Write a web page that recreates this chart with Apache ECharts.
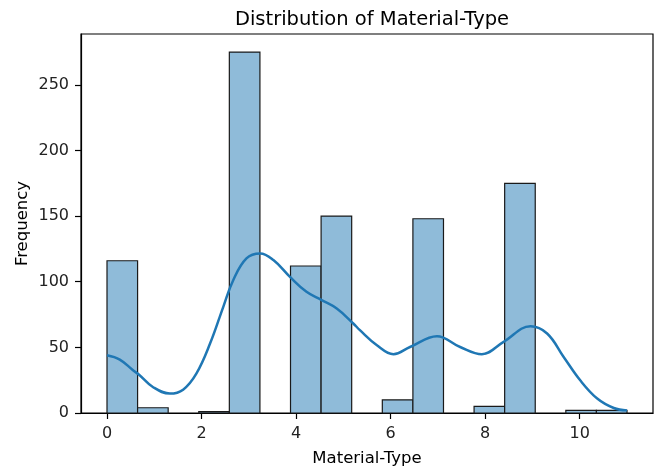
<!DOCTYPE html>
<html>
<head>
<meta charset="utf-8">
<script src="https://cdn.jsdelivr.net/npm/echarts@6/dist/echarts.min.js"></script>
<style>
  html, body { margin: 0; padding: 0; background: #fff; }
  #chart { width: 662px; height: 474px; }
</style>
</head>
<body>
<div id="chart"></div>
<script>
// histogram bins (17 bins over 0..11)
const binEdges = [0, 0.647, 1.294, 1.941, 2.588, 3.235, 3.882, 4.529, 5.176,
  5.824, 6.471, 7.118, 7.765, 8.412, 9.059, 9.706, 10.353, 11]
const counts = [116, 4, 0, 1, 275, 0, 112, 150, 0, 10, 148, 0, 5, 175, 0, 2, 2]

// kde curve
const kdeX = [0, 0.27, 0.55, 0.69, 0.97, 1.33, 1.61, 1.89, 2.18, 2.46, 2.67, 2.95,
  3.24, 3.52, 3.87, 4.22, 4.54, 4.86, 5.21, 5.35, 5.71, 6.06, 6.41, 6.98,
  7.47, 7.93, 8.39, 8.96, 9.31, 9.66, 10.01, 10.37, 10.72, 11]
const kdeY = [44, 40.7, 32.6, 28.8, 19.8, 14.8, 17.8, 30, 52.9, 80.9, 101.2, 117.8,
  121.6, 116.5, 103.7, 92.3, 86, 79.6, 68.2, 63.1, 51.6, 44.8, 50.3, 58.5,
  50.3, 44.8, 54.2, 66.1, 60.6, 42.7, 24.9, 11, 3.8, 2]

const xTicks = [0, 2, 4, 6, 8, 10]
const yTicks = [0, 50, 100, 150, 200, 250]

const font = 'DejaVu Sans'
const chart = echarts.init(document.getElementById('chart'))

const barData = counts.map((c, i) => [binEdges[i], binEdges[i + 1], c])
const lineData = kdeX.map((x, i) => [x, kdeY[i]])

const option = {
  animation: false,
  title: {
    text: 'Distribution of Material-Type',
    left: 367,
    top: 5,
    textAlign: 'center',
    textStyle: { fontFamily: font, fontSize: 19.5, fontWeight: 'normal', color: '#000' }
  },
  grid: {
    left: 81, right: 9, top: 34, bottom: 61,
    show: true,
    borderColor: '#000',
    borderWidth: 1.2,
    containLabel: false
  },
  xAxis: {
    type: 'value',
    min: -0.55,
    max: 11.55,
    name: 'Material-Type',
    nameLocation: 'middle',
    nameGap: 37,
    nameMoveOverlap: false,
    nameTextStyle: { fontFamily: font, fontSize: 16.5, color: '#000' },
    axisLine: { onZero: false, lineStyle: { color: '#000', width: 1.2 } },
    axisTick: { customValues: xTicks, length: 6, lineStyle: { color: '#000', width: 1.2 } },
    axisLabel: { customValues: xTicks, margin: 13, fontFamily: font, fontSize: 16, color: '#222' },
    splitLine: { show: false }
  },
  yAxis: {
    type: 'value',
    min: 0,
    max: 288.75,
    name: 'Frequency',
    nameLocation: 'middle',
    nameGap: 50,
    nameMoveOverlap: false,
    nameTextStyle: { fontFamily: font, fontSize: 16.5, color: '#000' },
    axisLine: { show: true, onZero: false, lineStyle: { color: '#000', width: 1.2 } },
    axisTick: { show: true, customValues: yTicks, length: 6, lineStyle: { color: '#000', width: 1.2 } },
    axisLabel: { customValues: yTicks, margin: 12, fontFamily: font, fontSize: 16, color: '#222' },
    splitLine: { show: false }
  },
  series: [
    {
      type: 'custom',
      data: barData,
      encode: { x: [0, 1], y: 2 },
      renderItem: function (params, api) {
        const h = api.value(2)
        if (!h) return
        const p0 = api.coord([api.value(0), 0])
        const p1 = api.coord([api.value(1), h])
        return {
          type: 'rect',
          shape: { x: p0[0], y: p1[1], width: p1[0] - p0[0], height: p0[1] - p1[1] },
          style: { fill: '#8fbbd9', stroke: '#1a1a1a', lineWidth: 1.2 }
        }
      }
    },
    {
      type: 'line',
      data: lineData,
      smooth: 0.4,
      showSymbol: false,
      lineStyle: { color: '#1f77b4', width: 2.5 },
      itemStyle: { color: '#1f77b4' }
    }
  ]
}

chart.setOption(option)
</script>
</body>
</html>
